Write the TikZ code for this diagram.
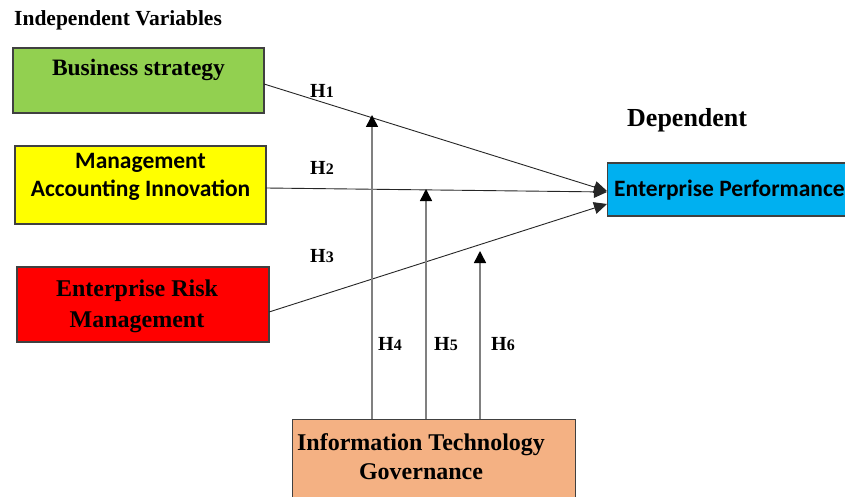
\documentclass[tikz,border=0pt]{standalone}
\usepackage{fontspec}
\setmainfont{Liberation Serif}
\newfontfamily\calib{Carlito}
\usetikzlibrary{arrows.meta,calc}
\newcommand{\hyp}[1]{H{\fontsize{16}{18}\selectfont #1}}
\begin{document}
\begin{tikzpicture}[x=1pt,y=-1pt,
  box/.style={draw=black!75,line width=1.1pt,rectangle,inner sep=0pt},
  txt/.style={inner sep=0pt,align=center,font=\fontsize{23.5}{30}\selectfont\bfseries},
  ctxt/.style={inner sep=0pt,align=center,font=\calib\fontsize{23.5}{28}\selectfont\bfseries},
  hl/.style={inner sep=0pt,font=\fontsize{20}{22}\selectfont\bfseries},
  link/.style={draw=black!85,line width=0.9pt,-{Triangle[length=13pt,width=12pt]}},
  mod/.style={draw=black!50,line width=1.5pt,-{Triangle[length=12pt,width=12pt,fill=black,color=black]}}
]
\useasboundingbox (0,0) rectangle (845,497);
\fill[white] (0,0) rectangle (845,497);

\node[inner sep=0pt,anchor=west,font=\fontsize{21.5}{24}\selectfont\bfseries] (title) at (14,20) {Independent Variables};
\node[inner sep=0pt,anchor=west,font=\fontsize{26}{28}\selectfont\bfseries] (dep) at (627,120) {Dependent};

\node[box,fill={rgb,255:red,146;green,208;blue,80},minimum width=251pt,minimum height=65pt] (bs) at (138.5,80.5) {};
\node[txt] (bst) at (138.5,70) {Business strategy};

\node[box,fill={rgb,255:red,255;green,255;blue,0},minimum width=251pt,minimum height=78pt] (mai) at (140.5,185) {};
\node[ctxt] (mait) at (140.5,177) {Management\\Accounting Innovation};

\node[box,fill={rgb,255:red,255;green,0;blue,0},minimum width=252pt,minimum height=75pt] (erm) at (143,304.5) {};
\node[txt,font=\fontsize{24}{31}\selectfont\bfseries] (ermt) at (137,306) {Enterprise Risk\\Management};

\node[box,fill={rgb,255:red,0;green,176;blue,240},minimum width=280pt,minimum height=53pt,anchor=west] (ep) at (607,189.5) {};
\node[ctxt,anchor=west] (ept) at (614,190) {Enterprise Performance};

\node[box,fill={rgb,255:red,244;green,177;blue,131},minimum width=283pt,minimum height=100pt,anchor=north west] (itg) at (292,419) {};
\node[txt,font=\fontsize{24}{29}\selectfont\bfseries] (itgt) at (421,457) {Information Technology\\Governance};

\coordinate (e1) at (607,191);
\coordinate (e2) at (607,192);
\coordinate (e3) at (607,204);
\coordinate (s1) at (264,84);
\coordinate (s2) at (266,188);
\coordinate (s3) at (269,312);
\draw[link] (s1) -- (e1);
\draw[link] (s2) -- (e2);
\draw[link] (s3) -- (e3);

\coordinate (t4) at (372,115);
\coordinate (t5) at (426,189);
\coordinate (t6) at (480,251);
\draw[mod] (itg.north -| t4) -- (t4);
\draw[mod] (itg.north -| t5) -- (t5);
\draw[mod] (itg.north -| t6) -- (t6);

\node[hl] (h1) at (322,91) {\hyp{1}};
\node[hl] (h2) at (322,168) {\hyp{2}};
\node[hl] (h3) at (322,256) {\hyp{3}};
\node[hl] (h4) at (390,344) {\hyp{4}};
\node[hl] (h5) at (446,344) {\hyp{5}};
\node[hl] (h6) at (503,344) {\hyp{6}};
\end{tikzpicture}
\end{document}
